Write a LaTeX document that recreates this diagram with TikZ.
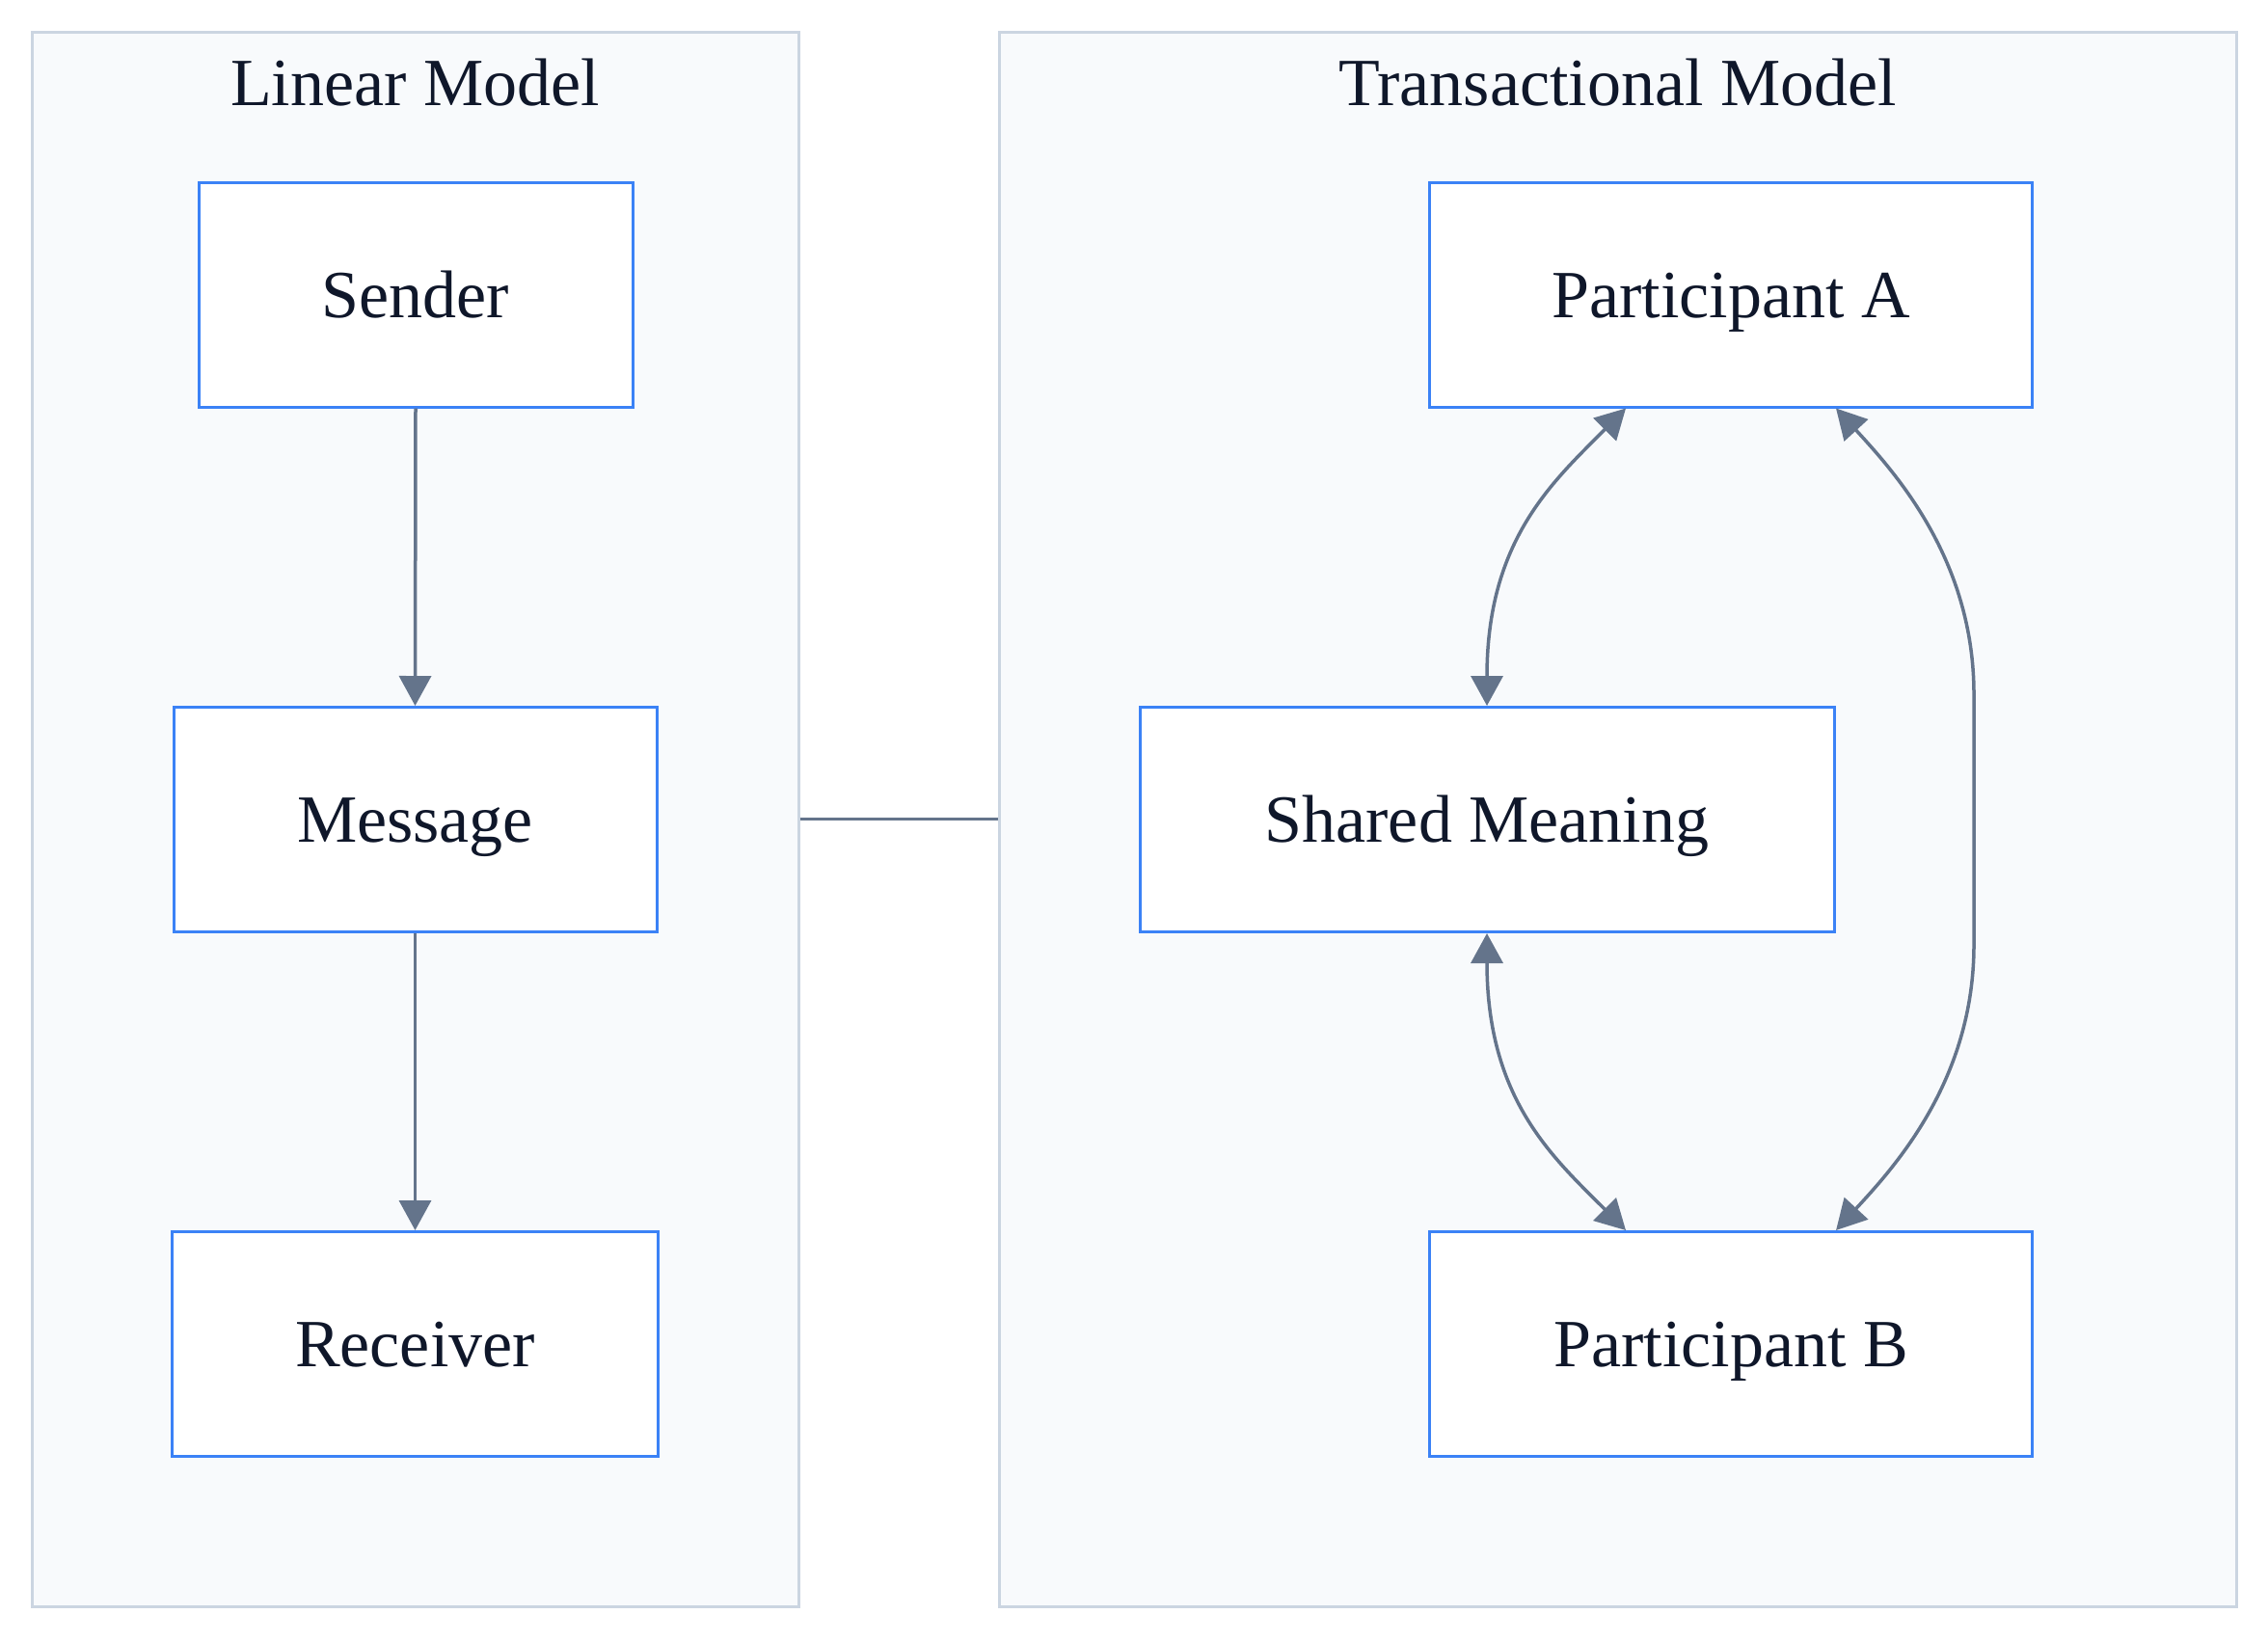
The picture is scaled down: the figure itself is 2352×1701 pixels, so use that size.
\documentclass[tikz,border=0pt]{standalone}
\usepackage{fontspec}
\setmainfont{Liberation Serif}
\usetikzlibrary{arrows.meta}
\definecolor{clfill}{HTML}{F8FAFC}
\definecolor{clborder}{HTML}{CBD5E1}
\definecolor{nodeborder}{HTML}{3B82F6}
\definecolor{edgecol}{HTML}{64748B}
\definecolor{textcol}{HTML}{0F172A}
\tikzset{
  cluster/.style={draw=clborder, fill=clfill, line width=3pt, inner sep=0pt},
  cltitle/.style={anchor=base, text=textcol, font=\fontsize{70}{84}\selectfont, inner sep=0pt},
  box/.style={draw=nodeborder, fill=white, line width=3pt, text=textcol,
    font=\fontsize{70}{84}\selectfont, text height=47pt, text depth=0pt,
    minimum height=233pt, inner sep=0pt},
  flow/.style={draw=edgecol, line width=3.5pt, -{Triangle[length=31pt,width=33pt]}},
  both/.style={draw=edgecol, line width=3.5pt, {Triangle[length=31pt,width=33pt]}-{Triangle[length=31pt,width=33pt]}},
  link/.style={draw=edgecol, line width=3.5pt}
}
\begin{document}
\begin{tikzpicture}[x=1pt,y=1pt]
\useasboundingbox (0,0) rectangle (2352,-1701);
\fill[white] (0,0) rectangle (2352,-1701);
% clusters
\node[cluster, minimum width=795pt, minimum height=1633pt] (lin) at (430.5,-849.5) {};
\node[cluster, minimum width=1283pt, minimum height=1633pt] (tra) at (1677.5,-849.5) {};
\node[cltitle] (lintitle) at (430.5,-109) {Linear Model};
\node[cltitle] (tratitle) at (1677.5,-109) {Transactional Model};
% nodes
\node[box, minimum width=450pt] (sender) at (431,-305.5) {Sender};
\node[box, minimum width=501pt] (message) at (430.5,-850) {Message};
\node[box, minimum width=504pt] (receiver) at (430.5,-1394) {Receiver};
\node[box, minimum width=625pt] (pa) at (1795,-305.5) {Participant A};
\node[box, minimum width=720pt] (sm) at (1542,-850) {Shared Meaning};
\node[box, minimum width=625pt] (pb) at (1795,-1394) {Participant B};
% edges
\draw[flow] (sender.south) -- (message.north);
\draw[flow] (message.south) -- (receiver.north);
\draw[link] (lin.east) -- (tra.west);
\draw[both] (sm.north) .. controls (1542,-560) and (1610,-500) .. ([xshift=-109pt]pa.south);
\draw[both] (sm.south) .. controls (1542,-1140) and (1610,-1200) .. ([xshift=-109pt]pb.north);
\draw[both] ([xshift=109pt]pa.south) .. controls (1965,-490) and (2047,-580) .. (2047,-720)
  -- (2047,-980) .. controls (2047,-1120) and (1965,-1210) .. ([xshift=109pt]pb.north);
\end{tikzpicture}
\end{document}
